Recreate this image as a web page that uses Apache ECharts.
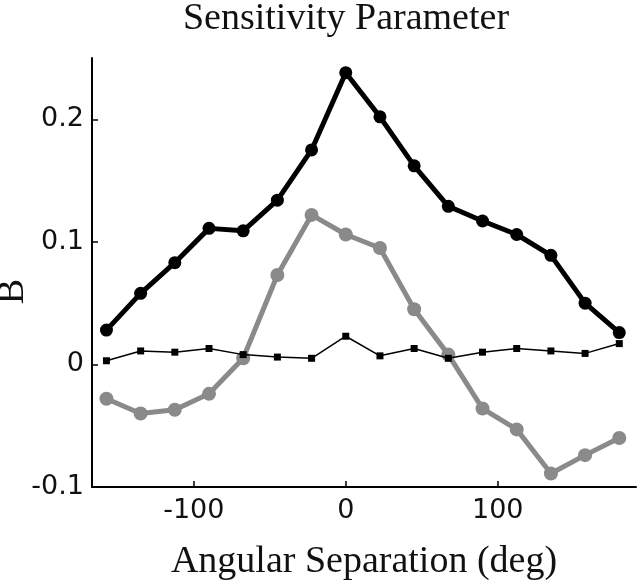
<!DOCTYPE html>
<html>
<head>
<meta charset="utf-8">
<script src="https://cdn.jsdelivr.net/npm/echarts@6/dist/echarts.min.js"></script>
<style>
  html, body { margin: 0; padding: 0; background: #fff; }
  #chart { width: 640px; height: 586px; }
</style>
</head>
<body>
<div id="chart"></div>
<script>
// angular separation (deg)
const angles = [-157.5, -135, -112.5, -90, -67.5, -45, -22.5, 0, 22.5, 45, 67.5, 90, 112.5, 135, 157.5, 180];
// thick black line with dots
const blackVals = [0.028, 0.058, 0.083, 0.111, 0.109, 0.134, 0.175, 0.238, 0.202, 0.162, 0.129, 0.117, 0.106, 0.089, 0.050, 0.026];
// grey line with big dots
const greyVals = [-0.028, -0.040, -0.037, -0.024, 0.005, 0.073, 0.122, 0.106, 0.095, 0.045, 0.008, -0.036, -0.053, -0.089, -0.074, -0.060];
// thin black line with squares
const squareVals = [0.003, 0.011, 0.010, 0.013, 0.008, 0.006, 0.005, 0.023, 0.007, 0.013, 0.005, 0.010, 0.013, 0.011, 0.009, 0.017];
const xTicks = [-100, 0, 100];
const yTicks = [-0.1, 0, 0.1, 0.2];

const pair = (vals) => angles.map((a, i) => [a, vals[i]]);

const chart = echarts.init(document.getElementById("chart"));
const serif = "'Liberation Serif', 'DejaVu Serif', serif";
const sans = "'DejaVu Sans', sans-serif";

chart.setOption({
  animation: false,
  title: {
    text: "Sensitivity Parameter",
    left: 346,
    textAlign: "center",
    top: 0,
    padding: 0,
    textStyle: { fontFamily: serif, fontSize: 38, fontWeight: "normal", color: "#111" },
  },
  grid: { left: 92, top: 58, right: 4, bottom: 99, outerBoundsMode: "none" },
  xAxis: {
    type: "value",
    min: -167,
    max: 191,
    name: "Angular Separation (deg)",
    nameLocation: "middle",
    nameGap: 56,
    nameMoveOverlap: false,
    nameTextStyle: { fontFamily: serif, fontSize: 38, color: "#111" },
    axisLine: { show: true, onZero: false, lineStyle: { color: "#000", width: 2 } },
    axisTick: { show: true, inside: true, length: 6, customValues: xTicks, lineStyle: { color: "#000", width: 1.5 } },
    axisLabel: { customValues: xTicks, fontFamily: sans, fontSize: 27, color: "#111", margin: 10 },
    splitLine: { show: false },
  },
  yAxis: {
    type: "value",
    min: -0.1,
    max: 0.25,
    name: "B",
    nameLocation: "middle",
    nameGap: 60,
    nameMoveOverlap: false,
    nameTextStyle: { fontFamily: serif, fontSize: 38, color: "#111", padding: [0, 38, 0, 0] },
    axisLine: { show: true, onZero: false, lineStyle: { color: "#000", width: 2 } },
    axisTick: { show: true, inside: true, length: 6, customValues: yTicks, lineStyle: { color: "#000", width: 1.5 } },
    axisLabel: {
      customValues: yTicks, fontFamily: sans, fontSize: 27, color: "#111", margin: 8,
      formatter: (v) => String(Math.round(v * 10) / 10),
    },
    splitLine: { show: false },
  },
  series: [
    {
      type: "line",
      data: pair(greyVals),
      symbol: "circle",
      symbolSize: 14,
      lineStyle: { color: "#8a8a8a", width: 5 },
      itemStyle: { color: "#8a8a8a" },
      z: 2,
    },
    {
      type: "line",
      data: pair(squareVals),
      symbol: "rect",
      symbolSize: 7,
      lineStyle: { color: "#000", width: 1.5 },
      itemStyle: { color: "#000" },
      z: 3,
    },
    {
      type: "line",
      data: pair(blackVals),
      symbol: "circle",
      symbolSize: 13,
      lineStyle: { color: "#000", width: 5 },
      itemStyle: { color: "#000" },
      z: 4,
    },
  ],
});
</script>
</body>
</html>
